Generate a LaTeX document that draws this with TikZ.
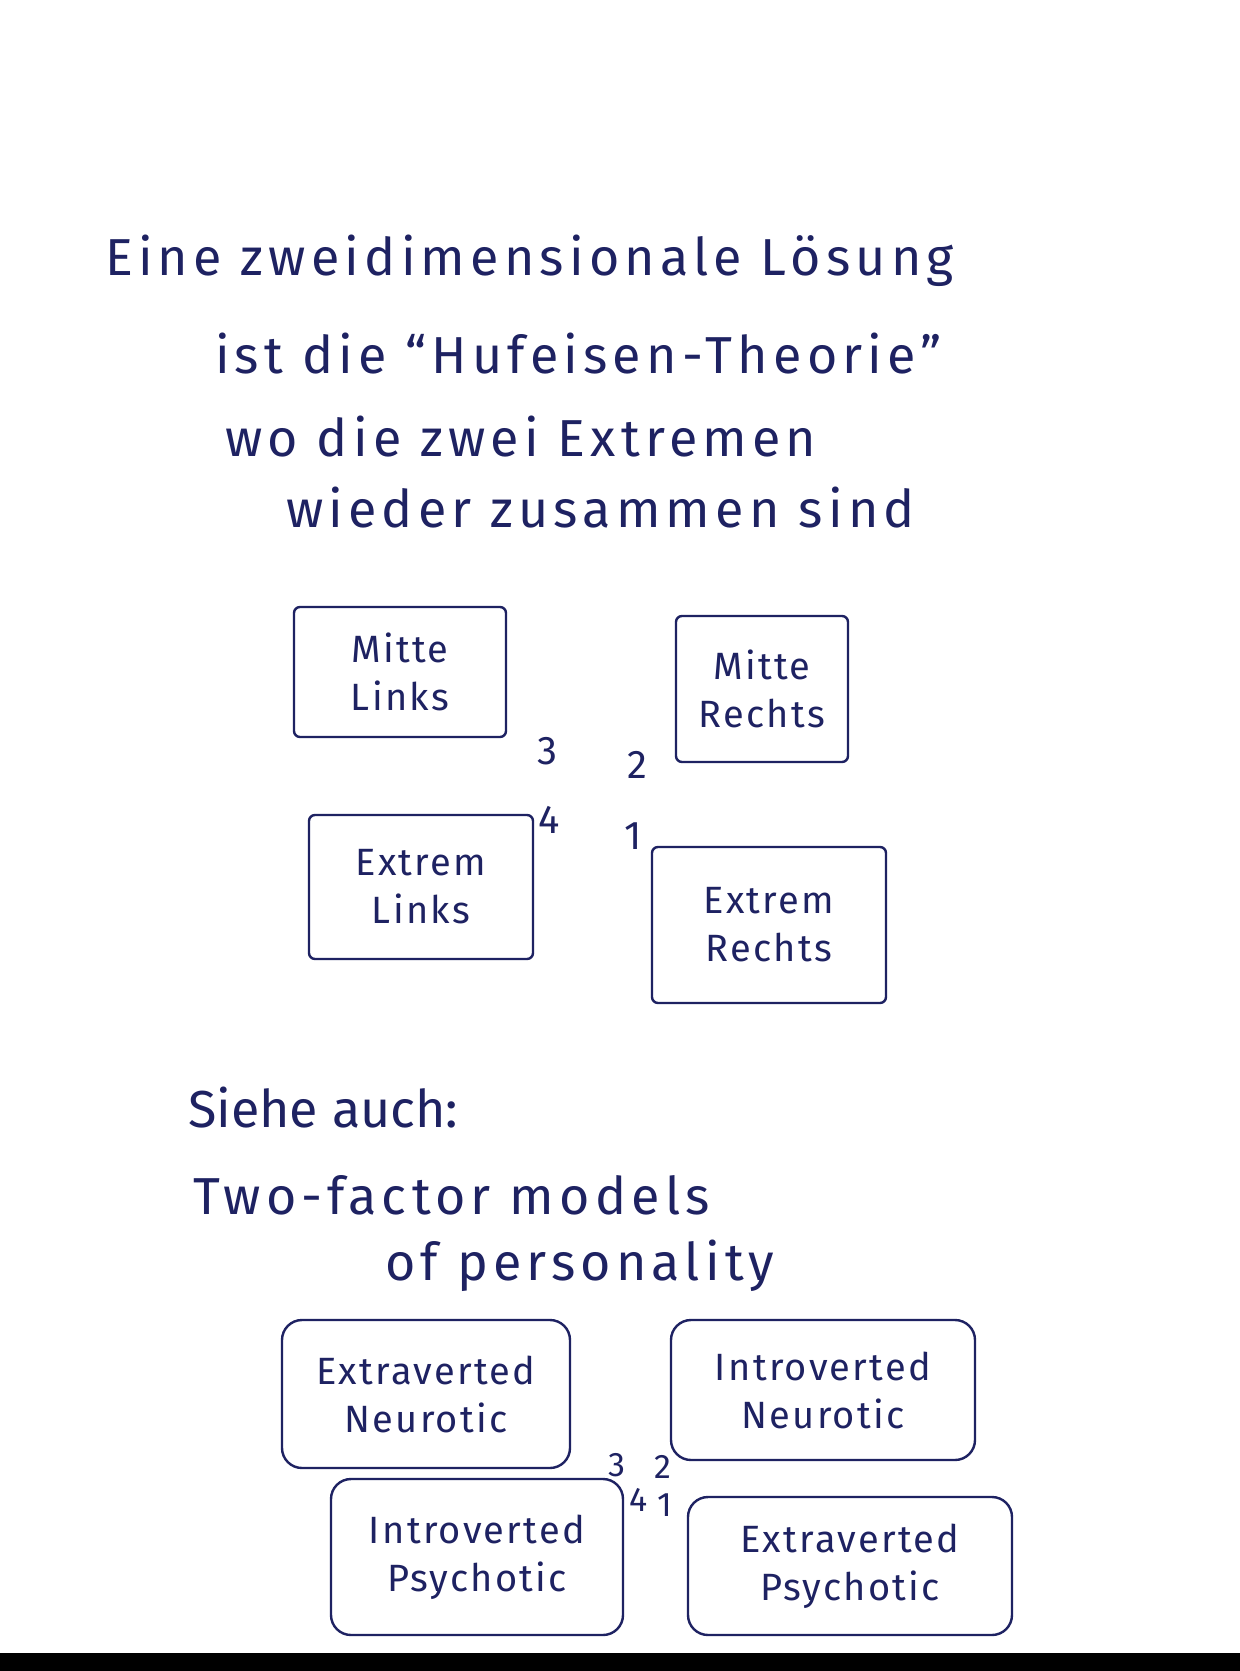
\documentclass[tikz,border=0pt]{standalone}
\usepackage{fontspec}
\setmainfont{Fira Sans}
\usetikzlibrary{positioning}
\definecolor{ink}{RGB}{30,34,98}

\begin{document}
\begin{tikzpicture}[
  x=0.5pt, y=-0.5pt,
  every node/.style={text=ink},
  line/.style={anchor=base west,
    font=\fontsize{26}{30}\selectfont\addfontfeature{LetterSpace=10}},
  box/.style={
    rectangle, rounded corners=3pt,
    draw=ink, line width=1.2pt,
    align=center, inner sep=0pt,
    font=\fontsize{19}{24}\selectfont\addfontfeature{LetterSpace=6},
  },
  soft/.style={box, rounded corners=10pt},
  num/.style={inner sep=1pt, font=\fontsize{20}{22}\selectfont},
]
  \fill[white] (0,0) rectangle (1240,1671);
  \fill[black] (0,1653) rectangle (1240,1671);

  \node[line] (eine)  at (98,275)  {Eine zweidimensionale Lösung};
  \node[line] (ist)   at (208,373) {ist die ``Hufeisen-Theorie''};
  \node[line] (wo)    at (218,456) {wo die zwei Extremen};
  \node[line] (wied)  at (279,527) {wieder zusammen sind};

  \node[box, minimum width=106pt, minimum height=65pt] (ml) at (400,672) {Mitte\\Links};
  \node[box, minimum width=86pt,  minimum height=73pt] (mr) at (762,689) {Mitte\\Rechts};
  \node[box, minimum width=112pt, minimum height=72pt] (el) at (421,887) {Extrem\\Links};
  \node[box, minimum width=117pt, minimum height=78pt] (er) at (769,925) {Extrem\\Rechts};
  \node[num] (n3) at (547,751) {3};
  \node[num] (n2) at (637,765) {2};
  \node[num] (n4) at (549,820) {4};
  \node[num] (n1) at (633,836) {1};

  \node[line, font=\fontsize{26}{30}\selectfont] (siehe) at (181,1127) {Siehe auch:};
  \node[line] (two)   at (186,1214) {Two-factor models};
  \node[line] (of)    at (378,1280) {of personality};

  \node[soft, minimum width=144pt, minimum height=74pt] (en) at (426,1394) {Extraverted\\Neurotic};
  \node[soft, minimum width=152pt, minimum height=70pt] (in) at (823,1390) {Introverted\\Neurotic};
  \node[soft, minimum width=146pt, minimum height=78pt] (ip) at (477,1557) {Introverted\\Psychotic};
  \node[soft, minimum width=162pt, minimum height=69pt] (ep) at (850,1566) {Extraverted\\Psychotic};
  \node[num, font=\fontsize{17}{19}\selectfont] (m3) at (617,1465) {3};
  \node[num, font=\fontsize{17}{19}\selectfont] (m2) at (663,1467) {2};
  \node[num, font=\fontsize{17}{19}\selectfont] (m4) at (639,1500) {4};
  \node[num, font=\fontsize{17}{19}\selectfont] (m1) at (665,1505) {1};
\end{tikzpicture}
\end{document}
